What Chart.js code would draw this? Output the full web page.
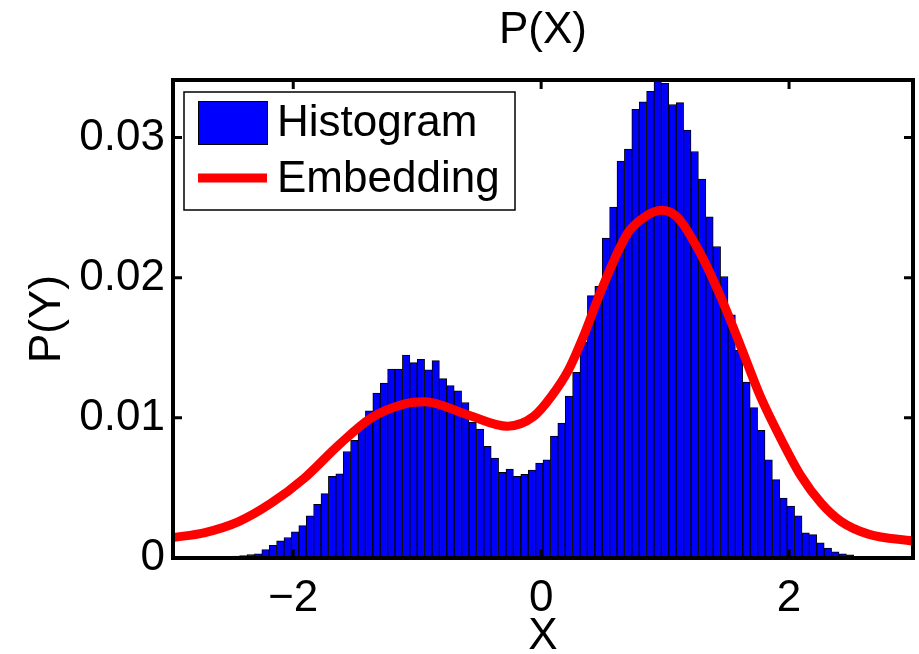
<!DOCTYPE html>
<html>
<head>
<meta charset="utf-8">
<script src="https://cdn.jsdelivr.net/npm/chart.js@4.4.1/dist/chart.umd.min.js"></script>
<style>
  html, body { margin: 0; padding: 0; background: #fff; }
  #wrap { width: 919px; height: 654px; position: relative; }
</style>
</head>
<body>
<div id="wrap"><canvas id="c"></canvas></div>
<script>
// histogram bin centres (100 bins over the x range)
const binCenters = [
  '-2.94','-2.88','-2.82','-2.76','-2.70','-2.64','-2.58','-2.52','-2.46','-2.40',
  '-2.34','-2.28','-2.22','-2.16','-2.10','-2.05','-1.99','-1.93','-1.87','-1.81',
  '-1.75','-1.69','-1.63','-1.57','-1.51','-1.45','-1.39','-1.33','-1.27','-1.21',
  '-1.15','-1.09','-1.03','-0.97','-0.91','-0.85','-0.79','-0.73','-0.67','-0.61',
  '-0.55','-0.49','-0.43','-0.37','-0.31','-0.25','-0.19','-0.13','-0.07','-0.01',
  '0.05','0.10','0.16','0.22','0.28','0.34','0.40','0.46','0.52','0.58',
  '0.64','0.70','0.76','0.82','0.88','0.94','1.00','1.06','1.12','1.18',
  '1.24','1.30','1.36','1.42','1.48','1.54','1.60','1.66','1.72','1.78',
  '1.84','1.90','1.96','2.02','2.08','2.14','2.19','2.25','2.31','2.37',
  '2.43','2.49','2.55','2.61','2.67','2.73','2.79','2.85','2.91','2.97'
];

// normalised counts P(Y)
const histValues = [
  0, 0, 0, 0, 0, 0, 0, 0, 0.00013, 0.00018,
  0.00025, 0.0003, 0.0006, 0.0009, 0.00122, 0.00146, 0.00186, 0.00231, 0.0030, 0.00383,
  0.00459, 0.00582, 0.00601, 0.0076, 0.0084, 0.00943, 0.0105, 0.01176, 0.01247, 0.01347,
  0.01347, 0.01448, 0.01394, 0.01418, 0.01342, 0.01408, 0.0128, 0.0123, 0.01192, 0.01109,
  0.00967, 0.0092, 0.00796, 0.00713, 0.00611, 0.00635, 0.00582, 0.00597, 0.00628, 0.00678,
  0.00701, 0.0087, 0.00962, 0.01155, 0.01325, 0.01543, 0.01872, 0.01938, 0.02283, 0.02504,
  0.02831, 0.02917, 0.03201, 0.03254, 0.0333, 0.0341, 0.03386, 0.03235, 0.03249, 0.03052,
  0.029, 0.02703, 0.02433, 0.02222, 0.02008, 0.01734, 0.01484, 0.01255, 0.01073, 0.0091,
  0.00701, 0.00559, 0.00428, 0.00371, 0.003, 0.00179, 0.00167, 0.00108, 0.0007, 0.00044,
  0.0003, 0.00023, 0.0001, 0.00006, 0, 0, 0, 0, 0, 0
];

// embedding curve
const embedX = [-2.97, -2.72, -2.44, -2.18, -1.91, -1.64, -1.37, -1.10, -0.94, -0.59,
  -0.27, -0.06, 0.08, 0.22, 0.35, 0.48, 0.70, 0.83, 0.97, 1.10,
  1.28, 1.45, 1.61, 1.77, 1.94, 2.10, 2.26, 2.42, 2.64, 3.0];
const embedY = [0.00146, 0.0018, 0.0026, 0.0039, 0.0057, 0.0080, 0.0100, 0.0110, 0.01115, 0.0102,
  0.0094, 0.0101, 0.0115, 0.0134, 0.0160, 0.0190, 0.0232, 0.0243, 0.0248, 0.0243,
  0.0218, 0.0186, 0.0151, 0.0115, 0.0084, 0.0058, 0.0039, 0.0026, 0.0017, 0.0012];

const xTicks = [-2, 0, 2];
const xTickLabels = ['\u22122', '0', '2'];
const yTicks = [0, 0.01, 0.02, 0.03];
const yTickLabels = ['0', '0.01', '0.02', '0.03'];

const FONT = "'Liberation Sans', Arial, Helvetica, sans-serif";

// MATLAB style box with inward ticks on all four sides
const boxPlugin = {
    id: 'box',
    afterDatasetsDraw(chart) {
        const { ctx, chartArea: a } = chart;
        const xs = chart.scales.x, ys = chart.scales.y;
        ctx.save();
        ctx.strokeStyle = '#000';
        ctx.lineWidth = 3;
        ctx.beginPath();
        xTicks.forEach(v => {
            const p = xs.getPixelForValue(v);
            ctx.moveTo(p, a.bottom); ctx.lineTo(p, a.bottom - 9);
            ctx.moveTo(p, a.top); ctx.lineTo(p, a.top + 9);
        });
        yTicks.forEach(v => {
            const p = ys.getPixelForValue(v);
            ctx.moveTo(a.left, p); ctx.lineTo(a.left + 9, p);
            ctx.moveTo(a.right, p); ctx.lineTo(a.right - 9, p);
        });
        ctx.stroke();
        ctx.lineWidth = 4;
        ctx.strokeRect(a.left, a.top, a.right - a.left, a.bottom - a.top);
        ctx.restore();
    }
};

const legendPlugin = {
    id: 'boxLegend',
    afterDraw(chart) {
        const { ctx } = chart;
        const ds = chart.data.datasets;
        const hist = ds.find(d => d.type === 'bar');
        const emb = ds.find(d => d.type === 'line');
        ctx.save();
        ctx.fillStyle = '#fff';
        ctx.fillRect(184, 92, 331, 118);
        ctx.strokeStyle = '#000';
        ctx.lineWidth = 1.5;
        ctx.strokeRect(184, 92, 331, 118);
        // histogram patch
        ctx.fillStyle = hist.backgroundColor;
        ctx.fillRect(198, 101, 69, 43);
        ctx.lineWidth = 1;
        ctx.strokeRect(198.5, 101.5, 69, 43);
        // embedding line
        ctx.strokeStyle = emb.borderColor;
        ctx.lineWidth = 9;
        ctx.beginPath();
        ctx.moveTo(198, 178); ctx.lineTo(267, 178);
        ctx.stroke();
        ctx.fillStyle = '#000';
        ctx.font = '44px ' + FONT;
        ctx.textBaseline = 'middle';
        ctx.fillText(hist.label, 277, 124);
        ctx.fillText(emb.label, 277, 180);
        ctx.restore();
    }
};

new Chart(document.getElementById('c'), {
    data: {
        labels: binCenters,
        datasets: [
            {
                type: 'line',
                label: 'Embedding',
                data: embedX.map((x, i) => ({ x: x, y: embedY[i] })),
                xAxisID: 'x',
                yAxisID: 'y',
                borderColor: '#ff0000',
                borderWidth: 9,
                pointRadius: 0,
                cubicInterpolationMode: 'monotone',
                fill: false,
                order: 0
            },
            {
                type: 'bar',
                label: 'Histogram',
                data: histValues,
                xAxisID: 'xb',
                yAxisID: 'y',
                backgroundColor: '#0000ff',
                borderColor: '#000',
                borderWidth: 1,
                barPercentage: 1,
                categoryPercentage: 1,
                grouped: false,
                order: 1
            }
        ]
    },
    options: {
        responsive: true,
        maintainAspectRatio: false,
        animation: false,
        layout: { padding: { left: 0, right: 6, top: 0, bottom: 0 } },
        plugins: {
            legend: { display: false },
            tooltip: { enabled: false },
            title: { display: false }
        },
        scales: {
            x: {
                type: 'linear',
                position: 'bottom',
                min: -2.97,
                max: 3.0,
                grid: { display: false, drawTicks: false },
                border: { display: false },
                afterBuildTicks: s => { s.ticks = xTicks.map(v => ({ value: v })); },
                afterFit: s => { s.height = 96; },
                ticks: {
                    color: '#000',
                    padding: 14,
                    font: { family: FONT, size: 44 },
                    callback: (v) => xTickLabels[xTicks.indexOf(v)]
                },
                title: {
                    display: true,
                    text: 'X',
                    color: '#000',
                    font: { family: FONT, size: 44, lineHeight: 0.6 },
                    padding: { top: 0, bottom: 4 }
                }
            },
            xt: {
                type: 'linear',
                position: 'top',
                min: -2.97,
                max: 3.0,
                grid: { display: false, drawTicks: false },
                border: { display: false },
                ticks: { display: false },
                afterFit: s => { s.height = 80; },
                title: {
                    display: true,
                    text: 'P(X)',
                    color: '#000',
                    font: { family: FONT, size: 44, lineHeight: 1.2 },
                    padding: { top: 4, bottom: 0 }
                }
            },
            xb: {
                type: 'category',
                display: false,
                offset: true,
                grid: { display: false }
            },
            y: {
                min: 0,
                max: 0.0341,
                grid: { display: false, drawTicks: false },
                border: { display: false },
                afterBuildTicks: s => { s.ticks = yTicks.map(v => ({ value: v })); },
                afterFit: s => { s.width = 173; },
                ticks: {
                    color: '#000',
                    padding: 8,
                    font: { family: FONT, size: 44 },
                    callback: (v) => yTickLabels[yTicks.indexOf(v)]
                },
                title: {
                    display: true,
                    text: 'P(Y)',
                    color: '#000',
                    font: { family: FONT, size: 44, lineHeight: 1.2 },
                    padding: { top: 21, bottom: 0 }
                }
            }
        }
    },
    plugins: [boxPlugin, legendPlugin]
});
</script>
</body>
</html>
